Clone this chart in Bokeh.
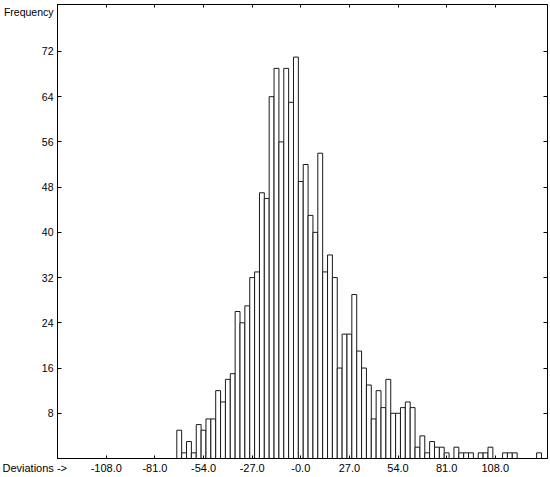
from bokeh.plotting import figure
from bokeh.models import Range1d, LinearAxis, FixedTicker
from bokeh.embed import file_html
from bokeh.resources import INLINE

# ---- data ----
bin_width = 2.7
bin_centers = [-67.5, -64.8, -62.1, -59.4, -56.7, -54.0, -51.3, -48.6, -45.9, -43.2,
               -40.5, -37.8, -35.1, -32.4, -29.7, -27.0, -24.3, -21.6, -18.9, -16.2,
               -13.5, -10.8, -8.1, -5.4, -2.7, 0.0, 2.7, 5.4, 8.1, 10.8,
               13.5, 16.2, 18.9, 21.6, 24.3, 27.0, 29.7, 32.4, 35.1, 37.8,
               40.5, 43.2, 45.9, 48.6, 51.3, 54.0, 56.7, 59.4, 62.1, 64.8,
               67.5, 70.2, 72.9, 75.6, 78.3, 81.0, 83.7, 86.4, 89.1, 91.8,
               94.5, 97.2, 99.9, 102.6, 105.3, 108.0, 110.7, 113.4, 116.1, 118.8,
               121.5, 124.2, 126.9, 129.6, 132.3]
frequencies = [5, 1, 3, 1, 6, 5, 7, 7, 12, 10,
               14, 15, 26, 24, 27, 32, 33, 47, 46, 64,
               69, 56, 69, 63, 71, 49, 52, 43, 40, 54,
               33, 36, 32, 16, 22, 22, 29, 19, 16, 13,
               7, 12, 9, 14, 8, 8, 9, 10, 9, 2,
               4, 1, 3, 2, 2, 1, 0, 2, 1, 1,
               1, 0, 1, 1, 2, 0, 0, 1, 1, 1,
               0, 0, 0, 0, 1]
x_ticks = [-108, -81, -54, -27, 0, 27, 54, 81, 108]
x_tick_labels = ["-108.0", "-81.0", "-54.0", "-27.0", "-0.0", "27.0", "54.0", "81.0", "108.0"]
y_ticks = [8, 16, 24, 32, 40, 48, 56, 64, 72]
y_tick_labels = ["8", "16", "24", "32", "40", "48", "56", "64", "72"]
x_axis_title = "Deviations ->"
y_axis_title = "Frequency"

FONT = "Liberation Sans"
X_LO, X_HI = -135.1, 137.0
Y_LO, Y_HI = 0, 80.3
X_TITLE_AT = -135.0   # title sits in the tick-label row at the frame's left edge
Y_TITLE_AT = 79.0     # title sits in the tick-label column near the frame's top
NBSP = "\u00a0"

p = figure(width=550, height=477, output_backend="svg", toolbar_location=None,
           x_range=Range1d(X_LO, X_HI), y_range=Range1d(Y_LO, Y_HI),
           min_border_left=57, min_border_right=3, min_border_top=4, min_border_bottom=19,
           background_fill_color="white", border_fill_color="white")
p.grid.visible = False
p.outline_line_color = "black"
p.outline_line_width = 1

p.vbar(x=bin_centers, width=bin_width, top=frequencies, bottom=0,
       fill_color="white", line_color="#1a1a1a", line_width=1)

# bottom axis: labelled positions as major ticks (no marks), marks as inward minor ticks
xa = p.xaxis[0]
xa.ticker = FixedTicker(ticks=x_ticks + [X_TITLE_AT], minor_ticks=x_ticks)
overrides = {t: l for t, l in zip(x_ticks, x_tick_labels)}
overrides[X_TITLE_AT] = x_axis_title + NBSP * 15
xa.major_label_overrides = overrides
xa.major_tick_line_color = None
xa.major_tick_in = 0
xa.major_tick_out = 0
xa.minor_tick_in = 3
xa.minor_tick_out = 0
xa.minor_tick_line_color = "black"
xa.axis_line_color = "black"
xa.major_label_standoff = 3
xa.major_label_text_font = FONT
xa.major_label_text_font_size = "11px"
xa.major_label_text_color = "black"

# left axis
ya = p.yaxis[0]
ya.ticker = FixedTicker(ticks=y_ticks + [Y_TITLE_AT], minor_ticks=y_ticks)
yover = {t: l for t, l in zip(y_ticks, y_tick_labels)}
yover[Y_TITLE_AT] = y_axis_title
ya.major_label_overrides = yover
ya.major_tick_line_color = None
ya.major_tick_in = 0
ya.major_tick_out = 0
ya.minor_tick_in = 4
ya.minor_tick_out = 0
ya.minor_tick_line_color = "black"
ya.axis_line_color = "black"
ya.major_label_standoff = 4
ya.major_label_text_font = FONT
ya.major_label_text_font_size = "10.5px"
ya.major_label_text_color = "black"

# mirrored tick marks on top and right
top_ax = LinearAxis(ticker=FixedTicker(ticks=x_ticks),
                    major_label_overrides={t: "" for t in x_ticks},
                    major_tick_in=3, major_tick_out=0, minor_tick_line_color=None,
                    major_label_standoff=0, axis_line_color="black",
                    major_tick_line_color="black")
p.add_layout(top_ax, "above")
right_ax = LinearAxis(ticker=FixedTicker(ticks=y_ticks),
                      major_label_overrides={t: "" for t in y_ticks},
                      major_tick_in=4, major_tick_out=0, minor_tick_line_color=None,
                      major_label_standoff=0, axis_line_color="black",
                      major_tick_line_color="black")
p.add_layout(right_ax, "right")

open("out.html", "w").write(file_html(p, INLINE))
